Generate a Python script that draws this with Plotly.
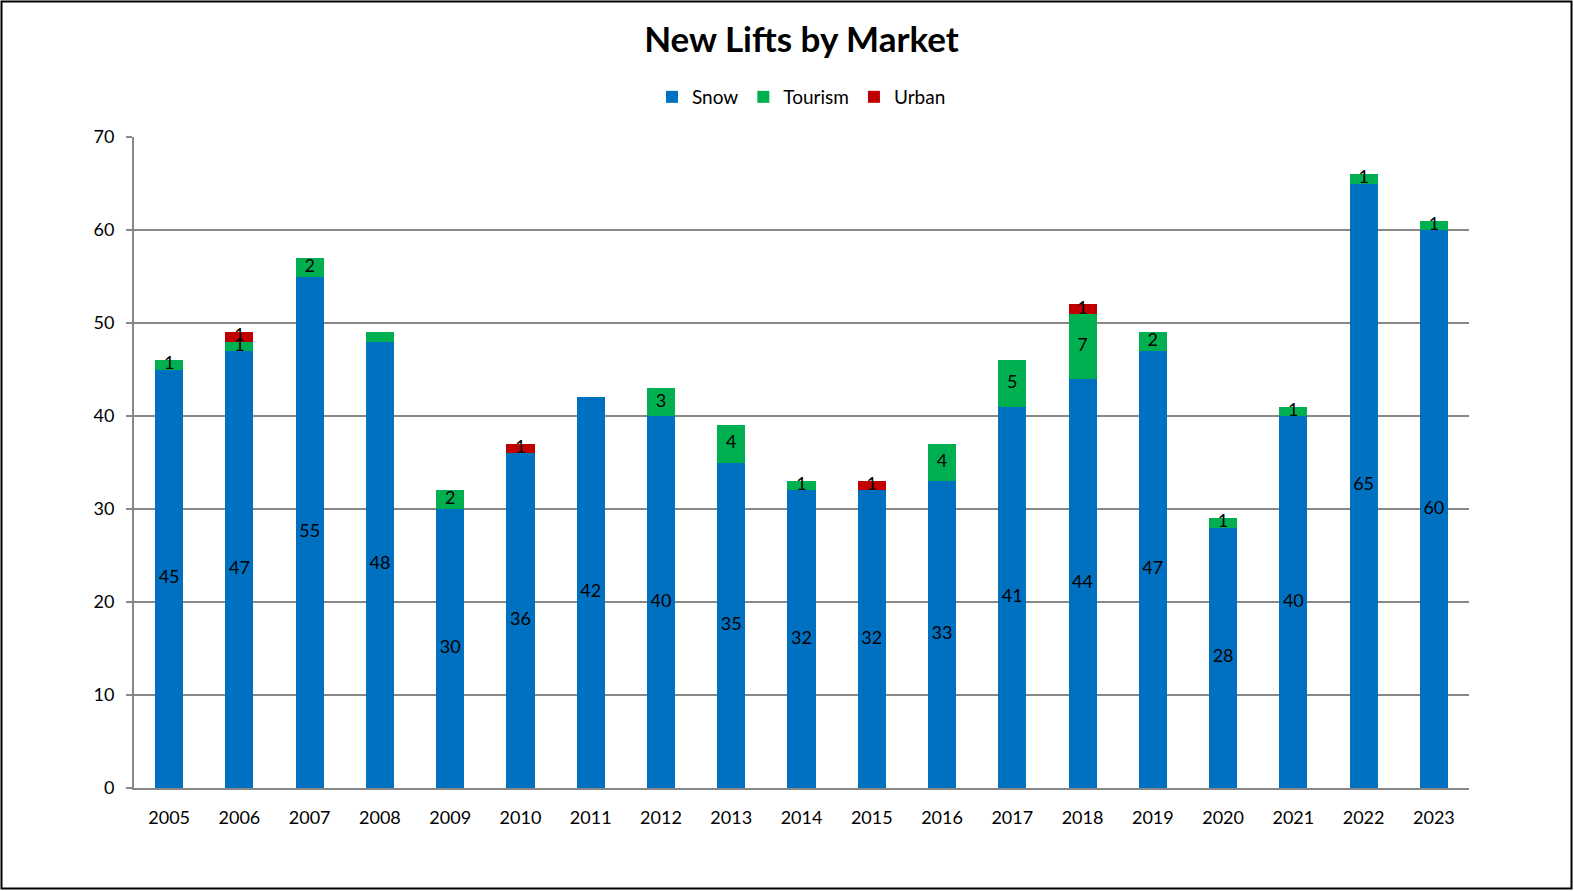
import plotly.graph_objects as go

years = ["2005", "2006", "2007", "2008", "2009", "2010", "2011", "2012", "2013", "2014",
         "2015", "2016", "2017", "2018", "2019", "2020", "2021", "2022", "2023"]
snow = [45, 47, 55, 48, 30, 36, 42, 40, 35, 32, 32, 33, 41, 44, 47, 28, 40, 65, 60]
tourism = [1, 1, 2, 1, 2, 0, 0, 3, 4, 1, 0, 4, 5, 7, 2, 1, 1, 1, 1]
urban = [0, 1, 0, 0, 0, 1, 0, 0, 0, 0, 1, 0, 0, 1, 0, 0, 0, 0, 0]
# which labels are shown (2008 tourism label absent in the reference)
tourism_label_shown = [True, True, True, False, True, True, True, True, True, True,
                       True, True, True, True, True, True, True, True, True]

FONT = "Lato"
W, H = 1574, 891
L, R, T, B = 134, 105, 137, 103

series = [("Snow", snow, "#0070C0"), ("Tourism", tourism, "#00B050"), ("Urban", urban, "#C00000")]

fig = go.Figure()
base = [0] * len(years)
for name, vals, col in series:
    fig.add_trace(go.Bar(x=years, y=vals, name=name, marker=dict(color=col, line=dict(width=0))))
    ys, txt = [], []
    for i, v in enumerate(vals):
        show = v > 0 and (name != "Tourism" or tourism_label_shown[i])
        ys.append(base[i] + v / 2 if show else None)
        txt.append(str(v) if show else "")
    fig.add_trace(go.Scatter(x=years, y=ys, text=txt, mode="text", textposition="middle center",
                             textfont=dict(family=FONT, size=18, color="#000000"),
                             showlegend=False, hoverinfo="skip"))
    base = [b + v for b, v in zip(base, vals)]

pw = W - L - R
ph = H - T - B
def px(x):
    return (x - L) / pw
def py(y):
    return (H - B - y) / ph

fig.update_layout(
    width=W, height=H,
    margin=dict(l=L, r=R, t=T, b=B, autoexpand=False),
    barmode="stack", bargap=0.6,
    paper_bgcolor="white", plot_bgcolor="white",
    font=dict(family=FONT, size=16, color="#000000"),
    title=dict(text="<b>New Lifts by Market</b>", x=0.5, xref="paper", xanchor="center",
               y=1 - 40 / H, yanchor="middle", font=dict(family=FONT, size=35, color="#000000")),
    legend=dict(orientation="h", x=0.5, xanchor="center", y=py(97), yanchor="middle",
                font=dict(family=FONT, size=19), itemwidth=30, traceorder="normal",
                bgcolor="rgba(0,0,0,0)"),
    xaxis=dict(range=[-0.5, len(years) - 0.5], showline=True, linecolor="#888888", linewidth=2,
               ticks="", showgrid=False,
               tickfont=dict(family=FONT, size=18), ticklabelstandoff=12),
    yaxis=dict(range=[0, 70], dtick=10, showline=True, linecolor="#888888", linewidth=2,
               ticks="outside", ticklen=6, tickcolor="#888888", tickwidth=2,
               gridcolor="#888888", gridwidth=1.5, zeroline=False,
               tickfont=dict(family=FONT, size=18), ticklabelstandoff=8),
    shapes=[dict(type="rect", xref="paper", yref="paper",
                 x0=px(1.5), x1=px(W - 2.5), y0=py(H - 2.5), y1=py(1.5),
                 line=dict(color="#000000", width=2), fillcolor="rgba(0,0,0,0)", layer="above")],
)

fig.write_html("out.html", config={"displayModeBar": False},
               post_script="document.body.style.margin='0';document.body.style.padding='0';"
                           "document.body.style.overflow='hidden';")
